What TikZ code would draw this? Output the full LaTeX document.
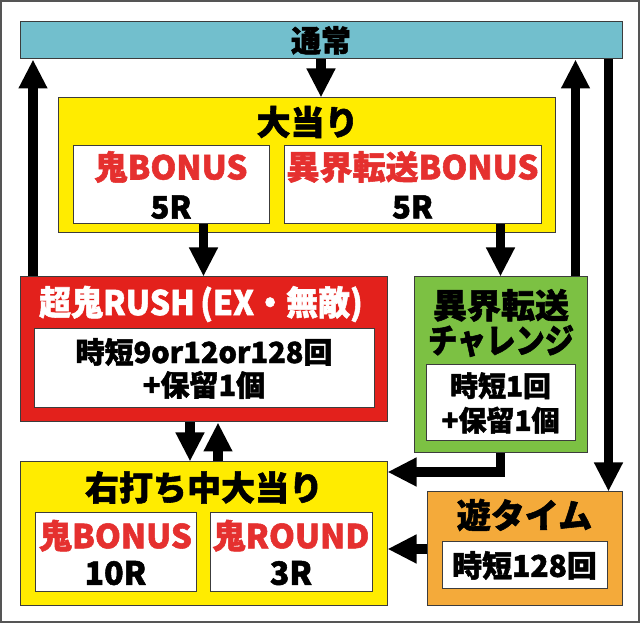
\documentclass[tikz,border=0pt]{standalone}
\usepackage{fontspec}
\setmainfont{Noto Sans CJK JP}[BoldFeatures={FakeBold=1.6}]
\usetikzlibrary{positioning, arrows.meta}

\definecolor{framec}{HTML}{555555}
\definecolor{linec}{HTML}{3C3C3C}
\definecolor{tsujoc}{HTML}{72BFCD}
\definecolor{yelc}{HTML}{FFEC00}
\definecolor{rushc}{HTML}{E3211C}
\definecolor{redtxt}{HTML}{E5302F}
\definecolor{grnc}{HTML}{7CC143}
\definecolor{orc}{HTML}{F4AA3A}

\newcommand{\rtxt}[1]{{\fontsize{33}{40}\selectfont\color{redtxt}#1}}

\begin{document}
\begin{tikzpicture}[x=1pt, y=1pt,
  box/.style={draw=linec, line width=1pt, inner sep=0pt},
  wbox/.style={box, fill=white, align=center, font=\bfseries\fontsize{31}{39}\selectfont},
  ttl/.style={align=center, inner sep=0pt, font=\bfseries\fontsize{34}{35}\selectfont},
  arr/.style={line width=9.5pt, -{Triangle[width=27pt,length=29pt]}}]
\useasboundingbox (0,0) rectangle (640,623);
\draw[framec, line width=1.5pt] (1,1) rectangle (639,622);

% top
\node[box, fill=tsujoc, minimum width=602pt, minimum height=37pt,
  font=\bfseries\fontsize{30}{30}\selectfont] (tsujo) at (321,582.5) {通常};

\node[box, fill=yelc, minimum width=497pt, minimum height=135pt] (oatari) at (306.5,457.5) {};
\node[ttl] (oatarittl) at (307.5,501) {大当り};
\node[wbox, minimum width=196pt, minimum height=78pt] (oni1) at (171,438) {\rtxt{鬼BONUS}\\5R};
\node[wbox, minimum width=257pt, minimum height=78pt] (ikai1) at (412.5,438) {\rtxt{異界転送BONUS}\\5R};

% middle
\node[box, fill=rushc, minimum width=367pt, minimum height=145pt] (rush) at (203.5,273.5) {};
\node[ttl, text=white] (rushttl) at (201,319) {\scalebox{0.94}[1]{超鬼RUSH\,(EX・無敵)}};
\node[wbox, minimum width=340pt, minimum height=79pt,
  font=\bfseries\fontsize{29}{33}\selectfont] (rushin) at (204,254.5) {時短9or12or128回\\+保留1個};

\node[box, fill=grnc, minimum width=173pt, minimum height=176pt] (chal) at (500.5,258) {};
\node[ttl] (chalttl) at (501,300) {異界転送\\\scalebox{0.86}[1]{チャレンジ}};
\node[wbox, minimum width=149pt, minimum height=76pt,
  font=\bfseries\fontsize{28}{34.5}\selectfont] (chalin) at (500.5,220) {時短1回\\+保留1個};

% bottom
\node[box, fill=yelc, minimum width=367pt, minimum height=144pt] (migi) at (203.5,89) {};
\node[ttl] (migittl) at (204,135.5) {右打ち中大当り};
\node[wbox, minimum width=161pt, minimum height=79pt,
  font=\bfseries\fontsize{32}{36.5}\selectfont] (oni2) at (115.5,70.5) {\rtxt{鬼BONUS}\\10R};
\node[wbox, minimum width=162pt, minimum height=79pt,
  font=\bfseries\fontsize{32}{36.5}\selectfont] (round) at (291,70.5) {\rtxt{鬼ROUND}\\3R};

\node[box, fill=orc, minimum width=195pt, minimum height=114pt] (asobi) at (524.5,74) {};
\node[ttl] (asobittl) at (524.5,108) {遊タイム};
\node[wbox, minimum width=165pt, minimum height=47pt,
  font=\bfseries\fontsize{30}{30}\selectfont] (asobiin) at (524.5,57.5) {時短128回};

% arrows
\draw[arr] ([xshift=13.5pt]rush.north west) -- ([xshift=13.5pt]rush.north west |- tsujo.south);
\draw[arr] (tsujo.south) -- (tsujo.south |- oatari.north);
\draw[arr] (rush.north |- oni1.south) -- (rush.north);
\draw[arr] (chal.north |- ikai1.south) -- (chal.north);
\draw[arr] ([xshift=-12pt]chal.north east) -- ([xshift=-12pt]chal.north east |- tsujo.south);
\draw[arr] ([xshift=-14pt]asobi.north east |- tsujo.south) -- ([xshift=-14pt]asobi.north east);
\draw[arr] ([xshift=-13.5pt]rush.south) -- ([xshift=-13.5pt]rush.south |- migi.north);
\draw[arr] ([xshift=14.5pt]migi.north) -- ([xshift=14.5pt]migi.north |- rush.south);
\draw[arr] (chal.south) |- ([yshift=62pt]migi.east);
\draw[arr] (asobi.west) -- (asobi.west -| migi.east);
\end{tikzpicture}
\end{document}
